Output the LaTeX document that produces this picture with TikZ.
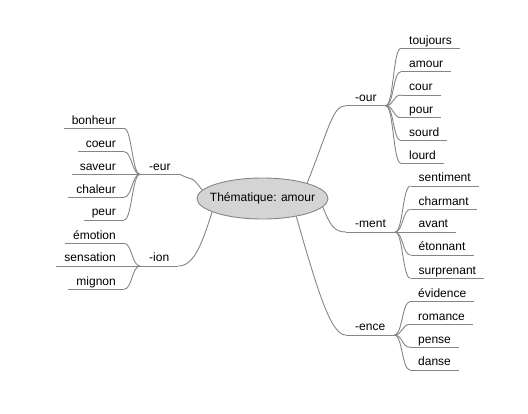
\documentclass[tikz,border=0pt]{standalone}
\usepackage{fontspec}
\setmainfont{Liberation Sans}
\usetikzlibrary{shapes.geometric}
\definecolor{edgegray}{HTML}{858585}
\definecolor{rootfill}{HTML}{D4D4D4}
\begin{document}
\begin{tikzpicture}[x=1pt,y=-1pt,
  every node/.style={font=\fontsize{12}{14}\selectfont, text=black},
  word/.style={inner xsep=8pt, inner ysep=1pt, text height=9pt, text depth=3pt},
  leafR/.style={word, anchor=south west},
  leafL/.style={word, anchor=south east},
  branchnode/.style={word, inner xsep=9pt, anchor=south west},
  link/.style={draw=edgegray, line width=0.9pt},
  rootnode/.style={ellipse, draw=edgegray, fill=rootfill, line width=0.9pt,
    minimum width=131pt, minimum height=41pt, inner xsep=-7pt, inner ysep=0pt}
]
\useasboundingbox (0,0) rectangle (528,413);

% root
\node[rootnode] (root) at (262.5,198.5) {Thématique: amour};

% branches
\node[branchnode] (our)  at (346,105.7) {-our};
\node[branchnode] (ment) at (346,232)   {-ment};
\node[branchnode] (ence) at (346,335)   {-ence};
\node[branchnode] (eur)  at (140,174.3) {-eur};
\node[branchnode] (ion)  at (140,266)   {-ion};

% leaves of -our
\node[leafR] (toujours) at (401,48.3)  {toujours};
\node[leafR] (amour)    at (401,71.7)  {amour};
\node[leafR] (cour)     at (401,95)    {cour};
\node[leafR] (pour)     at (401,117.7) {pour};
\node[leafR] (sourd)    at (401,140.7) {sourd};
\node[leafR] (lourd)    at (401,163.3) {lourd};

% leaves of -ment
\node[leafR] (sentiment)  at (410.5,186)   {sentiment};
\node[leafR] (charmant)   at (410.5,209.3) {charmant};
\node[leafR] (avant)      at (410.5,232)   {avant};
\node[leafR] (etonnant)   at (410.5,255)   {étonnant};
\node[leafR] (surprenant) at (410.5,278.3) {surprenant};

% leaves of -ence
\node[leafR] (evidence) at (410,301.7) {évidence};
\node[leafR] (romance)  at (410,324.3) {romance};
\node[leafR] (pense)    at (410,347.3) {pense};
\node[leafR] (danse)    at (410,370)   {danse};

% leaves of -eur
\node[leafL] (bonheur) at (124,128.3) {bonheur};
\node[leafL] (coeur)   at (124,151.7) {coeur};
\node[leafL] (saveur)  at (124,174.3) {saveur};
\node[leafL] (chaleur) at (124,197.3) {chaleur};
\node[leafL] (peur)    at (124,220)   {peur};

% leaves of -ion
\node[leafL] (emotion)   at (124,243.3) {émotion};
\node[leafL] (sensation) at (124,266)   {sensation};
\node[leafL] (mignon)    at (124,289.3) {mignon};

% underlines
\foreach \n in {our,ment,ence,eur,ion,toujours,amour,cour,pour,sourd,lourd,
  sentiment,charmant,avant,etonnant,surprenant,evidence,romance,pense,danse,
  bonheur,coeur,saveur,chaleur,peur,emotion,sensation,mignon}
  \draw[link] (\n.south west) -- (\n.south east);

% root to branches
\draw[link] (root.19) .. controls (330,125) and (333,105.7) .. (our.south west);
\draw[link] (root.-8) .. controls (330,225) and (334,232) .. (ment.south west);
\draw[link] (root.-28) .. controls (320,300) and (332,335) .. (ence.south west);
\draw[link] (root.172) .. controls (190,174.3) and (195,182) .. (eur.south east);
\draw[link] (root.195) .. controls (203,240) and (195,266) .. (ion.south east);

% branches to leaves (right)
\foreach \n in {toujours,amour,cour,pour,sourd,lourd}
  \draw[link] (our.south east) .. controls +(8,0) and +(-8,0) .. (\n.south west);
\foreach \n in {sentiment,charmant,etonnant,surprenant}
  \draw[link] (ment.south east) .. controls +(8,0) and +(-8,0) .. (\n.south west);
\foreach \n in {evidence,romance,pense,danse}
  \draw[link] (ence.south east) .. controls +(8,0) and +(-8,0) .. (\n.south west);
\draw[link] (ment.south east) -- (avant.south west);

% branches to leaves (left)
\foreach \n in {bonheur,coeur,chaleur,peur}
  \draw[link] (eur.south west) .. controls +(-8,0) and +(8,0) .. (\n.south east);
\draw[link] (eur.south west) -- (saveur.south east);
\foreach \n in {emotion,mignon}
  \draw[link] (ion.south west) .. controls +(-8,0) and +(8,0) .. (\n.south east);
\draw[link] (ion.south west) -- (sensation.south east);
\end{tikzpicture}
\end{document}
